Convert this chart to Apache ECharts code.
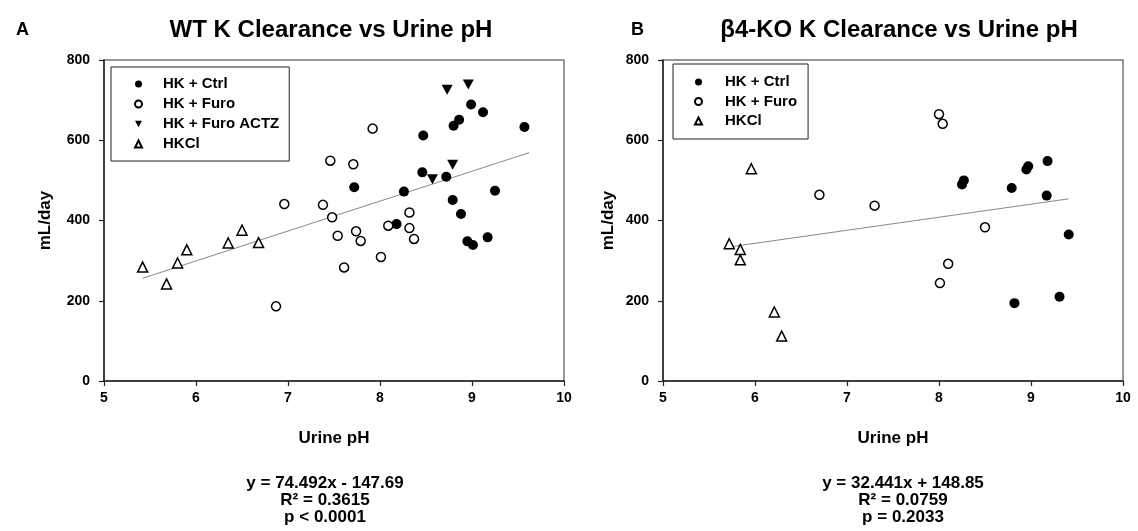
<!DOCTYPE html>
<html>
<head>
<meta charset="utf-8">
<script src="https://cdn.jsdelivr.net/npm/echarts@6/dist/echarts.min.js"></script>
<style>html,body{margin:0;padding:0;background:#fff}#c{width:1138px;height:531px}</style>
</head>
<body>
<div id="c"></div>
<script>
// ---- Data ----
const wtCtrl = [[8.99,689],[9.12,670],[8.86,651],[8.80,636],[9.57,633],[8.47,612],[8.46,520],[8.72,509],[7.72,483],[8.26,472],[9.25,474],[8.79,451],[8.88,416],[8.18,391],[8.95,348],[9.01,339],[9.17,358]];
const wtFuro = [[7.92,629],[7.46,549],[7.71,540],[6.96,441],[7.38,439],[7.48,408],[8.32,420],[8.09,387],[8.32,381],[7.54,362],[7.74,373],[7.79,349],[8.37,354],[8.01,309],[7.61,283],[6.87,186]];
const wtFuroActz = [[8.73,726],[8.96,739],[8.79,539],[8.57,503]];
const wtHkcl = [[5.42,284],[5.68,242],[5.80,294],[5.90,327],[6.35,344],[6.50,376],[6.68,345]];
const wtFit = [[5.42,256],[9.62,569]];

const koCtrl = [[8.25,490],[8.27,500],[8.95,527],[8.97,535],[9.18,548],[8.79,481],[9.17,462],[9.41,365],[8.82,194],[9.31,210]];
const koFuro = [[8.00,665],[8.04,641],[7.30,437],[8.50,383],[6.70,464],[8.10,292],[8.01,244]];
const koHkcl = [[5.96,529],[5.72,342],[5.84,328],[5.84,302],[6.21,172],[6.29,112]];
const koFit = [[5.72,334],[9.41,454]];

const xTicks = {min: 5, max: 10, interval: 1};
const yTicks = {min: 0, max: 800, interval: 200};

const panelTitles = ['WT K Clearance vs Urine pH', 'β4-KO K Clearance vs Urine pH'];
const panelLetters = ['A', 'B'];
const equations = ['y = 74.492x - 147.69\nR² = 0.3615\np < 0.0001', 'y = 32.441x + 148.85\nR² = 0.0759\np = 0.2033'];
const legendLeft = ['HK + Ctrl', 'HK + Furo', 'HK + Furo ACTZ', 'HKCl'];
const legendRight = ['HK + Ctrl', 'HK + Furo', 'HKCl'];

// ---- Chart ----
const FONT = '"Liberation Sans", Arial, sans-serif';
const chart = echarts.init(document.getElementById('c'), null, {renderer: 'canvas'});

function xAxis(gi) {
  return {
    type: 'value', gridIndex: gi, min: xTicks.min, max: xTicks.max, interval: xTicks.interval,
    name: 'Urine pH', nameLocation: 'middle', nameGap: 49,
    nameTextStyle: {fontFamily: FONT, fontWeight: 'bold', fontSize: 17, color: '#000'},
    axisLine: {show: true, onZero: false, lineStyle: {color: '#222', width: 1.5}},
    axisTick: {show: true, length: 5, lineStyle: {color: '#222', width: 1.2}},
    axisLabel: {margin: 10, fontFamily: FONT, fontWeight: 'bold', fontSize: 14, color: '#000'},
    splitLine: {show: false}
  };
}
function yAxis(gi, gap) {
  return {
    type: 'value', gridIndex: gi, min: yTicks.min, max: yTicks.max, interval: yTicks.interval,
    name: 'mL/day', nameLocation: 'middle', nameGap: gap,
    nameTextStyle: {fontFamily: FONT, fontWeight: 'bold', fontSize: 17, color: '#000'},
    axisLine: {show: true, lineStyle: {color: '#222', width: 1.5}},
    axisTick: {show: true, length: 5, lineStyle: {color: '#222', width: 1.2}},
    axisLabel: {margin: 14, fontFamily: FONT, fontWeight: 'bold', fontSize: 14, color: '#000'},
    splitLine: {show: false}
  };
}

const filled = {color: '#000', opacity: 1};
const open = {color: '#fff', borderColor: '#000', borderWidth: 1.5, opacity: 1};
const DOWN_TRI = 'path://M0,0 L10,0 L5,9 Z';

function scat(name, data, gi, symbol, style, size) {
  return {
    name: name, type: 'scatter', xAxisIndex: gi, yAxisIndex: gi, data: data,
    symbol: symbol, symbolSize: size, itemStyle: style, z: 3,
    emphasis: {disabled: true}, animation: false
  };
}
function fit(data, gi) {
  return {
    type: 'line', xAxisIndex: gi, yAxisIndex: gi, data: data, symbol: 'none',
    lineStyle: {color: '#888', width: 1}, z: 2, animation: false, silent: true
  };
}

function legend(data, left, top, pad, gap, textPad) {
  return {
    data: data.map(n => n === 'HK + Furo ACTZ' ? {name: n, icon: DOWN_TRI} : {name: n}),
    orient: 'vertical', left: left, top: top, padding: pad, itemGap: gap,
    itemWidth: 7, itemHeight: 7, borderColor: '#222', borderWidth: 1, borderRadius: 0,
    backgroundColor: '#fff', selectedMode: false,
    textStyle: {fontFamily: FONT, fontWeight: 'bold', fontSize: 15, color: '#000', lineHeight: 16, padding: [0, 0, 0, textPad]}
  };
}

const textEl = (x, y, text, size, extra) => Object.assign({
  type: 'text', x: x, y: y,
  style: Object.assign({text: text, fill: '#000', font: 'bold ' + size + 'px ' + FONT, align: 'center', verticalAlign: 'middle'}, extra || {})
});

const option = {
  backgroundColor: '#fff',
  animation: false,
  grid: [
    {left: 104, right: 1138 - 564, top: 60, bottom: 531 - 381, show: true, borderColor: '#777', borderWidth: 1.5, containLabel: false},
    {left: 663, right: 1138 - 1123, top: 60, bottom: 531 - 381, show: true, borderColor: '#777', borderWidth: 1.5, containLabel: false}
  ],
  xAxis: [xAxis(0), xAxis(1)],
  yAxis: [yAxis(0, 50), yAxis(1, 46)],
  legend: [
    legend(legendLeft, 111, 67, [9, 10, 9, 23], 4, 16),
    legend(legendRight, 673, 64, [10, 11, 10, 21], 3.5, 18)
  ],
  series: [
    scat('HK + Ctrl', wtCtrl, 0, 'circle', filled, 10),
    scat('HK + Furo', wtFuro, 0, 'circle', open, 9),
    scat('HK + Furo ACTZ', wtFuroActz, 0, DOWN_TRI, filled, [11, 10]),
    scat('HKCl', wtHkcl, 0, 'triangle', open, 10),
    fit(wtFit, 0),
    scat('HK + Ctrl', koCtrl, 1, 'circle', filled, 10),
    scat('HK + Furo', koFuro, 1, 'circle', open, 9),
    scat('HKCl', koHkcl, 1, 'triangle', open, 10),
    fit(koFit, 1)
  ],
  graphic: [
    textEl(16, 30, panelLetters[0], 18, {align: 'left'}),
    textEl(331, 30, panelTitles[0], 24),
    textEl(631, 30, panelLetters[1], 18, {align: 'left'}),
    textEl(899, 30, panelTitles[1], 24),
    textEl(325, 500, equations[0], 17, {lineHeight: 17}),
    textEl(903, 500, equations[1], 17, {lineHeight: 17})
  ]
};
chart.setOption(option);
</script>
</body>
</html>
